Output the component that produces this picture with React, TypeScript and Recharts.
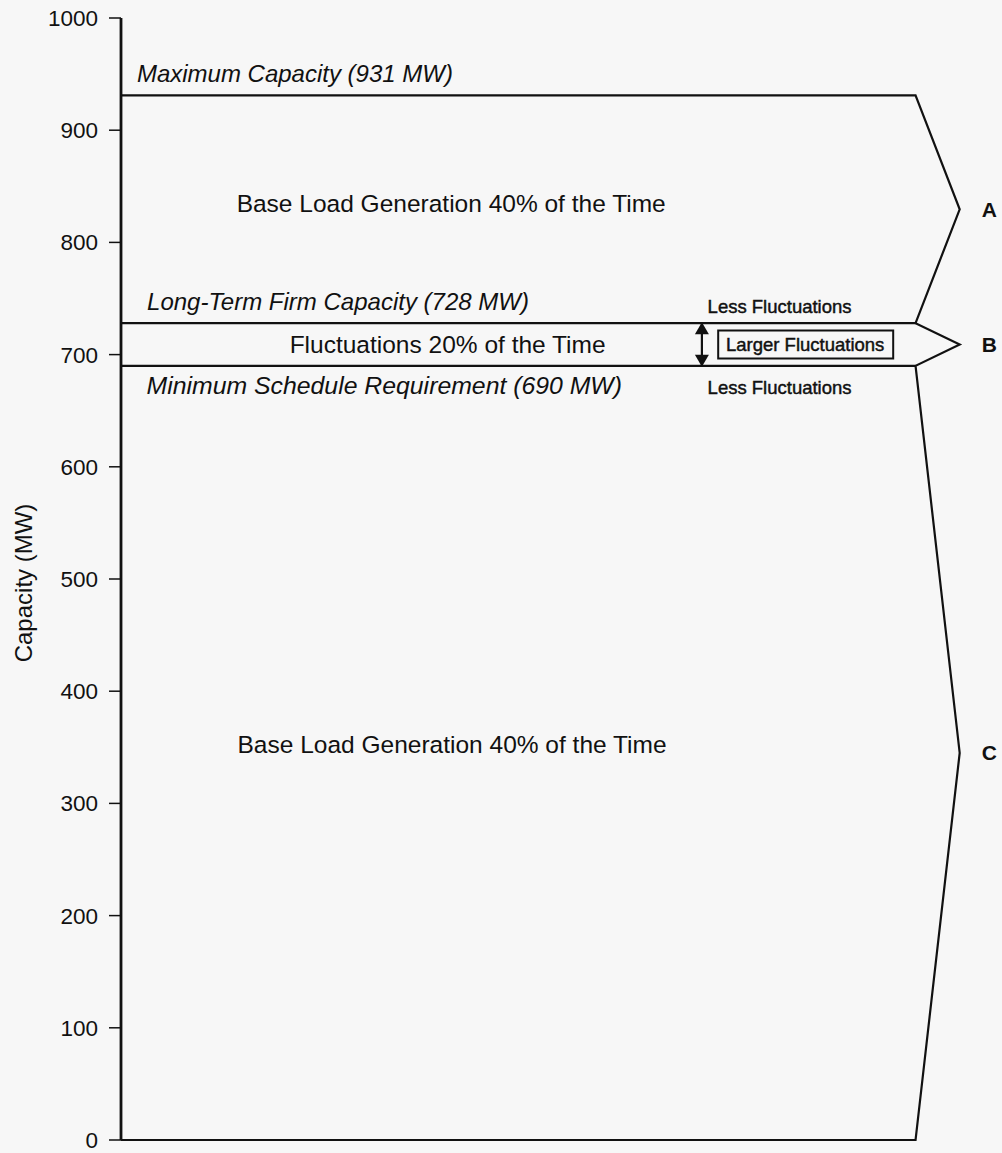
import React from 'react';
import { ComposedChart, Line, XAxis, YAxis, ReferenceDot, Scatter } from 'recharts';

// Capacity levels (MW)
const maxCapacity = 931;
const firmCapacity = 728;
const minSchedule = 690;
const floorCapacity = 0;

const yTicks = [0, 100, 200, 300, 400, 500, 600, 700, 800, 900, 1000];

const levelLabels = [
  'Maximum Capacity (931 MW)',
  'Long-Term Firm Capacity (728 MW)',
  'Minimum Schedule Requirement (690 MW)',
];
const bandLabels = [
  'Base Load Generation 40% of the Time',
  'Fluctuations 20% of the Time',
  'Base Load Generation 40% of the Time',
];
const zoneNames = ['A', 'B', 'C'];

// horizontal layout of the schematic (abstract x units)
const X_END = 90;
const X_APEX = 95;
const X_ZONE_LABEL = 97.5;

const FONT = '"Liberation Sans", Arial, Helvetica, sans-serif';
const INK = '#111';

const zoneMid = [
  (maxCapacity + firmCapacity) / 2,
  (firmCapacity + minSchedule) / 2,
  (minSchedule + floorCapacity) / 2,
];

// outer outline: max line, then the three chevrons down to the floor
const outline = [
  { x: 0, y: maxCapacity },
  { x: X_END, y: maxCapacity },
  { x: X_APEX, y: zoneMid[0] },
  { x: X_END, y: firmCapacity },
  { x: X_APEX, y: zoneMid[1] },
  { x: X_END, y: minSchedule },
  { x: X_APEX, y: zoneMid[2] },
  { x: X_END, y: floorCapacity },
  { x: 0, y: floorCapacity },
];
const firmLine = [
  { x: 0, y: firmCapacity },
  { x: X_END, y: firmCapacity },
];
const minLine = [
  { x: 0, y: minSchedule },
  { x: X_END, y: minSchedule },
];

const ARROW_X = 65.8;
const arrowTop = [{ x: ARROW_X, y: firmCapacity }];
const arrowBottom = [{ x: ARROW_X, y: minSchedule }];
const arrowShaft = [
  { x: ARROW_X, y: minSchedule },
  { x: ARROW_X, y: firmCapacity },
];

type TextOpts = {
  dx?: number;
  dy?: number;
  size?: number;
  italic?: boolean;
  anchor?: string;
  weight?: string;
  baseline?: string;
  heavy?: boolean;
};

const textAt = (value: string, opts: TextOpts) => (p: any) => (
  <text
    x={p.cx + (opts.dx || 0)}
    y={p.cy + (opts.dy || 0)}
    fill={INK}
    stroke={opts.heavy ? INK : 'none'}
    strokeWidth={opts.heavy ? 0.45 : 0}
    fontFamily={FONT}
    fontSize={opts.size || 24.5}
    fontStyle={opts.italic ? 'italic' : 'normal'}
    fontWeight={opts.weight || 'normal'}
    textAnchor={opts.anchor || 'start'}
    dominantBaseline={opts.baseline || 'alphabetic'}
  >
    {value}
  </text>
);

const boxedLabel = (value: string) => (p: any) => (
  <g>
    <rect x={p.cx - 87} y={p.cy - 14} width={175} height={28} fill="none" stroke={INK} strokeWidth={2} />
    <text
      x={p.cx}
      y={p.cy}
      fill={INK}
      stroke={INK}
      strokeWidth={0.45}
      fontFamily={FONT}
      fontSize={18.5}
      textAnchor="middle"
      dominantBaseline="central"
    >
      {value}
    </text>
  </g>
);

const upHead = (p: any) => (
  <path d={`M${p.cx},${p.cy - 1} L${p.cx - 7},${p.cy + 11} L${p.cx + 7},${p.cy + 11} Z`} fill={INK} />
);
const downHead = (p: any) => (
  <path d={`M${p.cx},${p.cy + 1} L${p.cx - 7},${p.cy - 11} L${p.cx + 7},${p.cy - 11} Z`} fill={INK} />
);

const AxisTitle = (props: any) => {
  const vb = props.viewBox || {};
  const cx = (vb.x || 0) + 23;
  const cy = (vb.y || 0) + (vb.height || 0) / 2 + 4;
  return (
    <text
      x={cx}
      y={cy}
      transform={`rotate(-90, ${cx}, ${cy})`}
      textAnchor="middle"
      dominantBaseline="central"
      fill={INK}
      fontFamily={FONT}
      fontSize={24}
    >
      Capacity (MW)
    </text>
  );
};

export default function App() {
  return (
    <div style={{ background: '#f7f7f7', width: 1002, height: 1153 }}>
      <style>{'body{margin:0;background:#f7f7f7;}'}</style>
      <ComposedChart width={1002} height={1153} margin={{ top: 18, right: 7, bottom: 13, left: 0 }}>
        <XAxis type="number" dataKey="x" domain={[0, 99]} hide />
        <YAxis
          type="number"
          domain={[0, 1000]}
          ticks={yTicks}
          interval={0}
          width={121}
          tickSize={12}
          tickMargin={11}
          axisLine={{ stroke: INK, strokeWidth: 2.8 }}
          tickLine={{ stroke: INK, strokeWidth: 1.5 }}
          tick={{ fill: INK, fontSize: 22.5, fontFamily: FONT }}
          label={<AxisTitle />}
        />

        <Line data={outline} dataKey="y" type="linear" stroke={INK} strokeWidth={2.2} dot={false} activeDot={false} isAnimationActive={false} />
        <Line data={firmLine} dataKey="y" type="linear" stroke={INK} strokeWidth={2.2} dot={false} activeDot={false} isAnimationActive={false} />
        <Line data={minLine} dataKey="y" type="linear" stroke={INK} strokeWidth={2.2} dot={false} activeDot={false} isAnimationActive={false} />
        <Line data={arrowShaft} dataKey="y" type="linear" stroke={INK} strokeWidth={2.2} dot={false} activeDot={false} isAnimationActive={false} />
        <Scatter data={arrowTop} dataKey="y" shape={upHead} isAnimationActive={false} />
        <Scatter data={arrowBottom} dataKey="y" shape={downHead} isAnimationActive={false} />

        <ReferenceDot x={1.8} y={maxCapacity} r={0} shape={textAt(levelLabels[0], { dy: -13, italic: true, size: 24 })} />
        <ReferenceDot x={2.95} y={firmCapacity} r={0} shape={textAt(levelLabels[1], { dy: -13, italic: true, size: 24 })} />
        <ReferenceDot x={2.9} y={minSchedule} r={0} shape={textAt(levelLabels[2], { dy: 28, italic: true, size: 24.8 })} />

        <ReferenceDot x={37.4} y={zoneMid[0]} r={0} shape={textAt(bandLabels[0], { anchor: 'middle', baseline: 'central', dy: -6 })} />
        <ReferenceDot x={37} y={zoneMid[1]} r={0} shape={textAt(bandLabels[1], { anchor: 'middle', baseline: 'central' })} />
        <ReferenceDot x={37.5} y={zoneMid[2]} r={0} shape={textAt(bandLabels[2], { anchor: 'middle', baseline: 'central', dy: -8 })} />

        <ReferenceDot x={74.6} y={firmCapacity} r={0} shape={textAt('Less Fluctuations', { anchor: 'middle', baseline: 'central', dy: -17, size: 18.5, heavy: true })} />
        <ReferenceDot x={74.6} y={minSchedule} r={0} shape={textAt('Less Fluctuations', { anchor: 'middle', baseline: 'central', dy: 22, size: 18.5, heavy: true })} />
        <ReferenceDot x={77.5} y={zoneMid[1]} r={0} shape={boxedLabel('Larger Fluctuations')} />

        {zoneNames.map((name, i) => (
          <ReferenceDot
            key={name}
            x={X_ZONE_LABEL}
            y={zoneMid[i]}
            r={0}
            shape={textAt(name, { baseline: 'central', weight: 'bold', size: 21 })}
          />
        ))}
      </ComposedChart>
    </div>
  );
}
